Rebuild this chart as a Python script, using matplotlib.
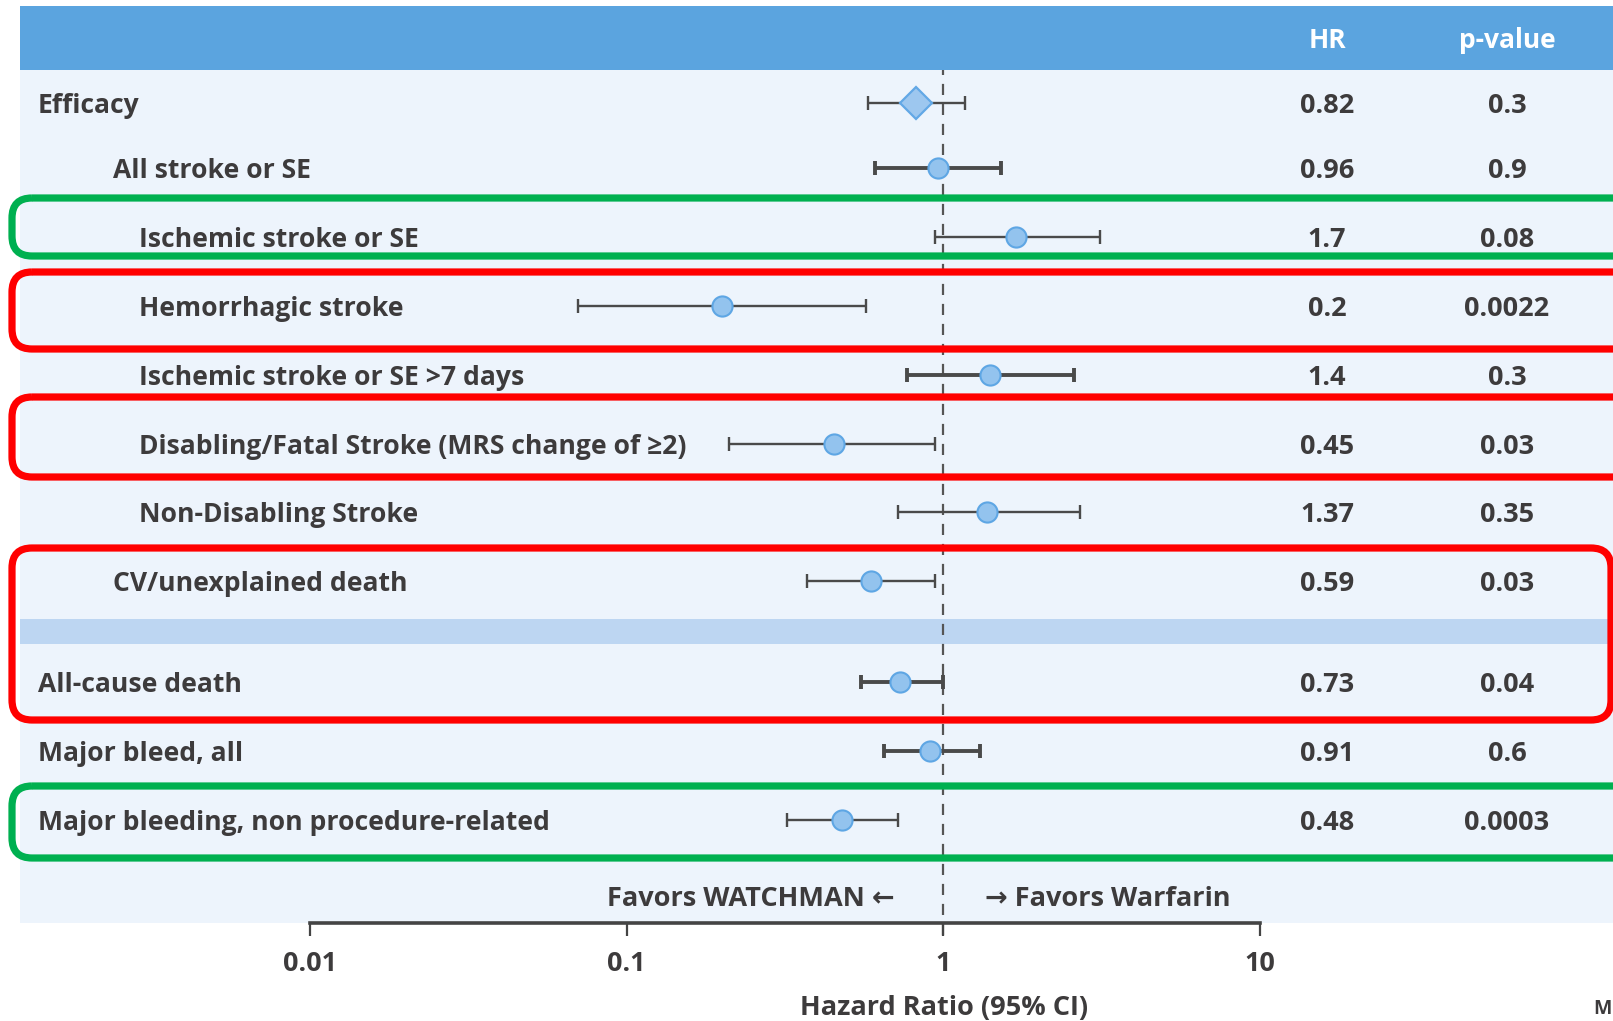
import matplotlib
matplotlib.use("Agg")
import matplotlib.pyplot as plt
from matplotlib.patches import Rectangle, FancyBboxPatch
import numpy as np

# ---------------- data ----------------
labels = ["Efficacy", "All stroke or SE", "Ischemic stroke or SE", "Hemorrhagic stroke",
          "Ischemic stroke or SE >7 days", "Disabling/Fatal Stroke (MRS change of \u22652)",
          "Non-Disabling Stroke", "CV/unexplained death", "All-cause death",
          "Major bleed, all", "Major bleeding, non procedure-related"]
hr = [0.82, 0.96, 1.7, 0.2, 1.4, 0.45, 1.37, 0.59, 0.73, 0.91, 0.48]
ci_low = [0.58, 0.61, 0.94, 0.07, 0.77, 0.21, 0.72, 0.37, 0.55, 0.65, 0.32]
ci_high = [1.17, 1.52, 3.13, 0.57, 2.59, 0.94, 2.70, 0.94, 1.00, 1.31, 0.72]
hr_text = ["0.82", "0.96", "1.7", "0.2", "1.4", "0.45", "1.37", "0.59", "0.73", "0.91", "0.48"]
p_text = ["0.3", "0.9", "0.08", "0.0022", "0.3", "0.03", "0.35", "0.03", "0.04", "0.6", "0.0003"]
x_ticks = [0.01, 0.1, 1, 10]
x_ticklabels = ["0.01", "0.1", "1", "10"]

# ---------------- style / layout ----------------
indent = [0, 1, 2, 2, 2, 2, 2, 1, 0, 0, 0]
thick = [False, True, False, False, True, False, False, False, True, True, False]
diamond = [True] + [False] * 10
W, H = 1613, 1021
FONT = ["Open Sans", "DejaVu Sans"]
TXT = "#3d3b3c"
FS = 19.5
FS_LAB = 19.1
plt.rcParams["font.family"] = FONT
plt.rcParams["font.weight"] = "bold"

def row_y(i):
    return 99.6 + 68.8 * i + (32.4 if i >= 8 else 0) + (3.5 if i == 0 else 0)

fig = plt.figure(figsize=(W / 100, H / 100), dpi=100)

# background
bg = fig.add_axes([0, 0, 1, 1], zorder=0)
bg.set_xlim(0, W); bg.set_ylim(H, 0); bg.axis("off")
bg.add_patch(Rectangle((20, 70), W - 20, 923 - 70, facecolor="#edf4fc", edgecolor="none"))
bg.add_patch(Rectangle((20, 6), W - 20, 64, facecolor="#5ba4df", edgecolor="none"))
bg.add_patch(Rectangle((20, 619), W - 20, 25, facecolor="#bdd6f2", edgecolor="none"))

# forest axes
ax = fig.add_axes([310 / W, (H - 923) / H, 950 / W, (923 - 70) / H], zorder=2)
ax.set_xscale("log")
ax.set_xlim(0.01, 10)
ax.set_ylim(923, 70)
ax.patch.set_alpha(0)
for s in ["top", "left", "right"]:
    ax.spines[s].set_visible(False)
ax.spines["bottom"].set_color("#444444")
ax.spines["bottom"].set_linewidth(2.6)
ax.set_yticks([])
ax.set_xticks(x_ticks)
ax.set_xticklabels(x_ticklabels)
ax.xaxis.set_minor_locator(matplotlib.ticker.NullLocator())
ax.tick_params(axis="x", direction="out", length=9, width=1.6, color="#444444",
               labelsize=FS, labelcolor=TXT, pad=11)
for t in ax.get_xticklabels():
    t.set_fontweight("bold")

ax.axvline(1, ymin=-0.014, ymax=1, color="#555555", lw=1.6, ls=(0, (5, 4)), clip_on=False, zorder=1)

for i in range(len(labels)):
    y = row_y(i)
    lw = 2.8 if thick[i] else 1.7
    ax.errorbar([hr[i]], [y], xerr=[[hr[i] - ci_low[i]], [ci_high[i] - hr[i]]], fmt="none",
                ecolor="#4a4a4a", elinewidth=lw, capsize=4.8, capthick=lw, zorder=3)
    if diamond[i]:
        ax.plot([hr[i]], [y], marker="D", ms=16.5, mfc="#9dc7ef", mec="#62a8e6", mew=1.6, zorder=4)
    else:
        ax.plot([hr[i]], [y], marker="o", ms=14.5, mfc="#93c3ee", mec="#5ea6e4", mew=1.5, zorder=4)

# overlay for text and annotation boxes
ov = fig.add_axes([0, 0, 1, 1], zorder=5)
ov.set_xlim(0, W); ov.set_ylim(H, 0); ov.axis("off")
ov.patch.set_alpha(0)

ov.text(1327, 48, "HR", color="white", fontsize=19, fontweight="bold", ha="center", va="baseline")
ov.text(1507, 48, "p-value", color="white", fontsize=19, fontweight="bold", ha="center", va="baseline")

indent_x = [38, 113, 139]
for i in range(len(labels)):
    y = row_y(i) + 10
    ov.text(indent_x[indent[i]], y, labels[i], color=TXT, fontsize=FS_LAB, fontweight="bold", va="baseline")
    ov.text(1327, y, hr_text[i], color=TXT, fontsize=FS, fontweight="bold", ha="center", va="baseline")
    ov.text(1507, y, p_text[i], color=TXT, fontsize=FS, fontweight="bold", ha="center", va="baseline")

ov.text(895, 906, "Favors WATCHMAN \u2190", color=TXT, fontsize=FS, fontweight="bold", ha="right", va="baseline")
ov.text(985, 906, "\u2192 Favors Warfarin", color=TXT, fontsize=FS, fontweight="bold", ha="left", va="baseline")
ov.text(944, 1015, "Hazard Ratio (95% CI)", color=TXT, fontsize=FS, fontweight="bold", ha="center", va="baseline")
ov.text(1612, 1014, "M", color=TXT, fontsize=14, fontweight="bold", ha="right", va="baseline")

boxes = [(198, 256, "#00b050", 1650), (272, 349, "#ff0000", 1650), (397, 477, "#ff0000", 1650),
         (548, 720, "#ff0000", 1611), (786, 858, "#00b050", 1650)]
for top, bot, col, right in boxes:
    ov.add_patch(FancyBboxPatch((12, top), right - 12, bot - top,
                                boxstyle="round,pad=0,rounding_size=20",
                                facecolor="none", edgecolor=col, lw=5.2, clip_on=False))

fig.savefig("out.png", dpi=100)
